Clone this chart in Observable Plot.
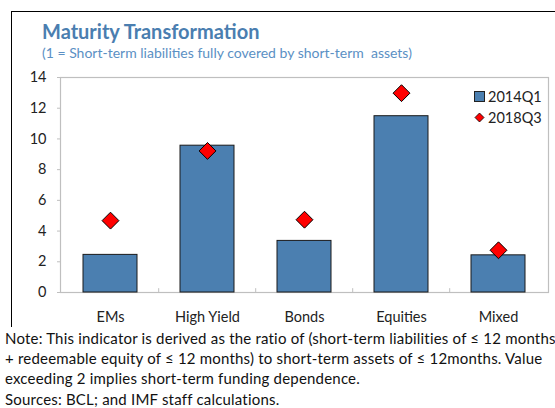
<!DOCTYPE html>
<html>
<head>
<meta charset="utf-8">
<script src="https://cdn.jsdelivr.net/npm/d3@7"></script>
<script src="https://cdn.jsdelivr.net/npm/@observablehq/plot@0.6"></script>
<style>
  html, body { margin: 0; padding: 0; background: #fff; }
  #wrap { position: relative; width: 555px; height: 408px; overflow: hidden; font-family: Lato, "Open Sans", sans-serif; }
  #border { position: absolute; left: 11px; top: 11px; width: 600px; height: 316px; border: 1.5px solid #000; border-bottom: none; box-sizing: border-box; }
  #title { position: absolute; left: 42px; top: 19px; font-size: 20px; font-weight: bold; color: #4a7eb0; white-space: nowrap; }
  #subtitle { position: absolute; left: 42px; top: 44px; font-size: 14px; color: #5b90c4; white-space: pre; }
  #chart { position: absolute; left: 0; top: 60px; }
  #legend { position: absolute; left: 474px; top: 86px; font-size: 14.5px; color: #222; }
  #legend .row { display: flex; align-items: center; height: 21px; }
  #legend .sq { width: 9px; height: 9px; background: #4b7fb0; border: 1px solid #222; margin-right: 3px; }
  #legend svg { margin-right: 3px; }
  #note { position: absolute; left: 5px; top: 328px; font-size: 15px; letter-spacing: 0.2px; line-height: 20.2px; color: #111; white-space: nowrap; }
</style>
</head>
<body>
<div id="wrap">
  <div id="border"></div>
  <div id="title">Maturity Transformation</div>
  <div id="subtitle">(1 = Short-term liabilities fully covered by short-term  assets)</div>
  <div id="chart"></div>
  <div id="legend"></div>
  <div id="note"></div>
</div>
<script>
const categories = ["EMs", "High Yield", "Bonds", "Equities", "Mixed"];
const values2014Q1 = [2.45, 9.56, 3.36, 11.48, 2.42];
const values2018Q3 = [4.68, 9.22, 4.74, 12.98, 2.75];
const seriesNames = ["2014Q1", "2018Q3"];
const yTicks = [0, 2, 4, 6, 8, 10, 12, 14];
const noteLines = [
  "Note: This indicator is derived as the ratio of (short-term liabilities of \u2264 12 months",
  "+ redeemable equity of \u2264 12 months) to short-term assets of \u2264 12months. Value",
  "exceeding 2 implies short-term funding dependence.",
  "Sources: BCL; and IMF staff calculations."
];

const barColor = "#4b7fb0";
const diamondColor = "#ff0000";

const bars = categories.map((c, i) => ({cat: c, v: values2014Q1[i]}));
const pts = categories.map((c, i) => ({cat: c, v: values2018Q3[i]}));

const W = 555, H = 270, mL = 60, mR = 7, mT = 17, mB = 38;
const band = (W - mL - mR) / categories.length;

const chart = Plot.plot({
  width: W,
  height: H,
  marginLeft: mL,
  marginRight: mR,
  marginTop: mT,
  marginBottom: mB,
  style: {fontFamily: "Lato, 'Open Sans', sans-serif", fontSize: "14.5px", color: "#222", background: "transparent"},
  x: {domain: categories, paddingInner: 0.44, paddingOuter: 0.22, label: null},
  y: {domain: [0, 14], label: null},
  marks: [
    Plot.frame({stroke: "#bfbfbf", strokeWidth: 1.2}),
    Plot.barY(bars, {x: "cat", y: "v", fill: barColor, stroke: "#1a1a1a", strokeWidth: 1}),
    Plot.ruleX(categories.slice(1), {x: d => d, y1: 0, y2: 0.25, dx: -band / 2, stroke: "#bfbfbf"}),
    Plot.dot(pts, {x: "cat", y: "v", symbol: "diamond2", r: 7.6, fill: diamondColor, stroke: "#000", strokeWidth: 1}),
    Plot.axisY({ticks: yTicks, tickSize: 3, tickPadding: 11, stroke: "#bfbfbf", fill: "#222", tickFormat: d => d}),
    Plot.axisX({tickSize: 0, tickPadding: 19, fill: "#222"})
  ]
});
document.getElementById("chart").appendChild(chart);

// Legend
const lg = document.getElementById("legend");
lg.innerHTML =
  `<div class="row"><div class="sq"></div><span>${seriesNames[0]}</span></div>` +
  `<div class="row"><svg width="11" height="11" viewBox="-5.5 -5.5 11 11"><path d="M0,-4.5L4.5,0L0,4.5L-4.5,0Z" fill="${diamondColor}" stroke="#000" stroke-width="0.8"/></svg><span>${seriesNames[1]}</span></div>`;

document.getElementById("note").innerHTML = noteLines.map(l => `<div>${l}</div>`).join("");
</script>
</body>
</html>
